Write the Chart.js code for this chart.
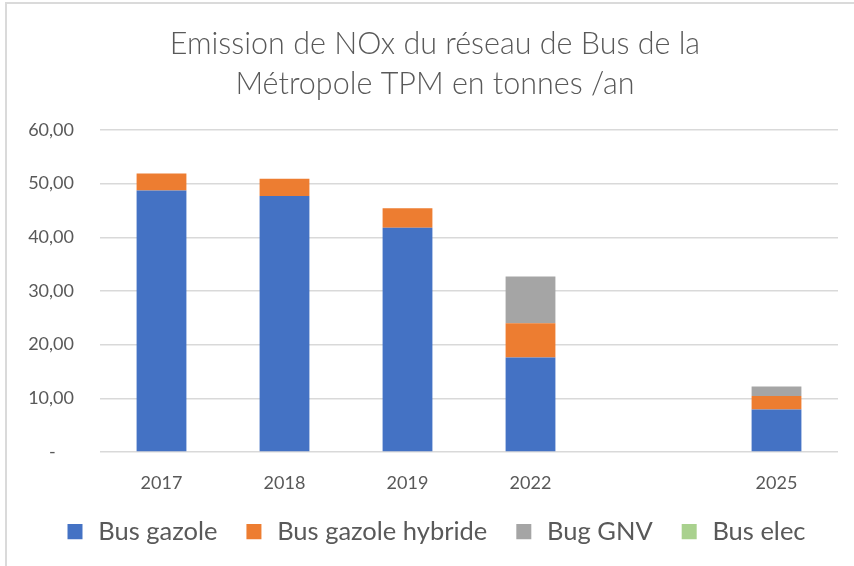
<!DOCTYPE html>
<html>
<head>
<meta charset="utf-8">
<script src="https://cdn.jsdelivr.net/npm/chart.js@4.4.1/dist/chart.umd.min.js"></script>
<style>
  html, body { margin: 0; padding: 0; background: #fff; overflow: hidden; }
  #wrap { position: relative; width: 854px; height: 566px; }
  #frame { position: absolute; left: 5px; top: 2px; right: -4px; bottom: -4px; border-top: 2px solid #dadada; border-left: 2px solid #dadada; }
  canvas { position: absolute; left: 0; top: 0; }
</style>
</head>
<body>
<div id="wrap">
  <div id="frame"></div>
  <canvas id="chart" width="854" height="566"></canvas>
</div>
<script>
// NOx emitted by the bus fleet, tonnes per year
const years = ['2017', '2018', '2019', '2022', '', '2025'];
const busGazole = [48.7, 47.7, 41.8, 17.6, null, 7.9];
const busHybride = [3.2, 3.2, 3.6, 6.4, null, 2.5];
const bugGnv = [0, 0, 0, 8.7, null, 1.8];
const busElec = [0, 0, 0, 0, null, 0];
const yTicks = [0, 10, 20, 30, 40, 50, 60];

const FONT = 'Lato, "Open Sans", sans-serif';
const GREY = '#595959';
const COLORS = ['#4472C4', '#ED7D31', '#A5A5A5', '#A9D18E'];

function fmt(v) {
  if (v === 0) return '-    ';
  return v.toFixed(2).replace('.', ',');
}

// legend swatch: 15px square, left part of the image is blank spacing
function legendMark(color) {
  const c = document.createElement('canvas');
  c.width = 33;
  c.height = 16;
  const g = c.getContext('2d');
  g.fillStyle = color;
  g.fillRect(15, 0, 15, 15);
  return c;
}
const marks = COLORS.map(legendMark);

// move the legend row a little to the left
const nudgeLegend = {
  id: 'nudgeLegend',
  afterLayout(chart) {
    chart.legend.left -= 6;
    chart.legend.right -= 6;
  }
};

const ctx = document.getElementById('chart');

new Chart(ctx, {
  type: 'bar',
  data: {
    labels: years,
    datasets: [
      { label: 'Bus gazole', data: busGazole, backgroundColor: COLORS[0] },
      { label: 'Bus gazole hybride', data: busHybride, backgroundColor: COLORS[1] },
      { label: 'Bug GNV', data: bugGnv, backgroundColor: COLORS[2] },
      { label: 'Bus elec', data: busElec, backgroundColor: COLORS[3] }
    ]
  },
  plugins: [nudgeLegend],
  options: {
    responsive: false,
    animation: false,
    devicePixelRatio: 1,
    layout: { padding: { left: 20, right: 4, top: 0, bottom: 11 } },
    datasets: {
      bar: { categoryPercentage: 1, barPercentage: 0.405, borderWidth: 0 }
    },
    scales: {
      x: {
        stacked: true,
        grid: { display: false },
        border: { display: false },
        ticks: { color: GREY, font: { family: FONT, size: 18 }, padding: 12 }
      },
      y: {
        stacked: true,
        min: 0,
        max: 60,
        afterFit: (scale) => { scale.width = 80; },
        afterBuildTicks: (scale) => { scale.ticks = yTicks.map(v => ({ value: v })); },
        grid: { color: '#d9d9d9', lineWidth: 1.4, drawTicks: false },
        border: { display: false },
        ticks: {
          color: GREY,
          font: { family: FONT, size: 18 },
          padding: 26,
          callback: (v) => fmt(v)
        }
      },
      // empty right gutter
      y2: {
        position: 'right',
        grid: { display: false },
        border: { display: false },
        ticks: { display: false },
        afterFit: (scale) => { scale.width = 12; }
      }
    },
    plugins: {
      title: {
        display: true,
        text: ['Emission de NOx du réseau de Bus de la', 'Métropole TPM en tonnes /an'],
        color: GREY,
        font: { family: FONT, size: 30.5, weight: 300, lineHeight: '40px' },
        padding: { top: 24, bottom: 26 }
      },
      legend: {
        position: 'bottom',
        labels: {
          color: GREY,
          font: { family: FONT, size: 25.5 },
          usePointStyle: true,
          pointStyleWidth: 33,
          boxHeight: 15,
          padding: 14,
          generateLabels: (chart) =>
            Chart.defaults.plugins.legend.labels.generateLabels(chart)
              .map(item => ({ ...item, pointStyle: marks[item.datasetIndex] }))
        }
      },
      tooltip: { enabled: false }
    }
  }
});
</script>
</body>
</html>
